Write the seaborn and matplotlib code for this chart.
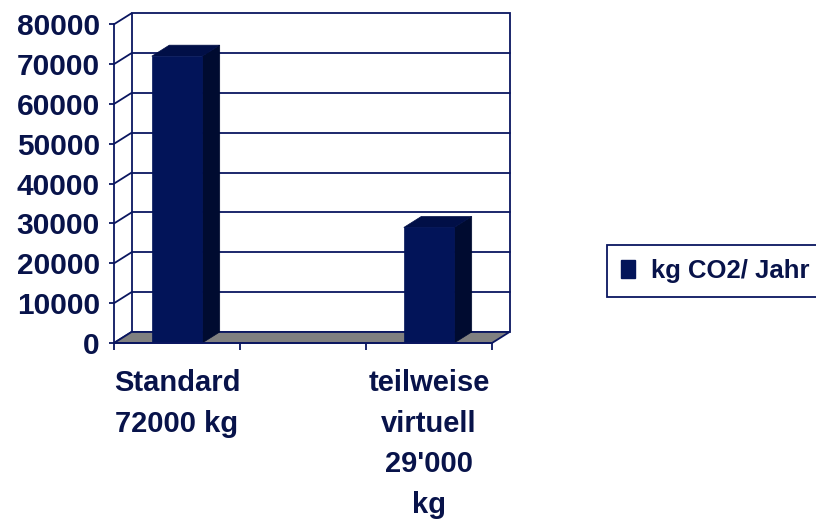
import numpy as np
import pandas as pd
import matplotlib
matplotlib.use("Agg")
import matplotlib.pyplot as plt
import seaborn as sns
from matplotlib.patches import Polygon, Patch
from matplotlib.lines import Line2D
from matplotlib.transforms import IdentityTransform

# ---- data ----
categories = ["Standard\n72000 kg", "", "teilweise\nvirtuell\n29'000\nkg"]
values = [72000, np.nan, 29000]
series_name = "kg CO2/ Jahr"
y_ticks = [0, 10000, 20000, 30000, 40000, 50000, 60000, 70000, 80000]
y_tick_labels = ["0", "10000", "20000", "30000", "40000", "50000", "60000", "70000", "80000"]

# ---- style ----
FRONT = "#021459"
SIDE = "#000b30"
TOP = "#010f47"
NAVY = "#0a1660"
TEXT = "#08134a"
FLOOR = "#808080"
DX, DY = 17.5, 11.0

sns.set_style("white")
plt.rcParams['font.family'] = ['Liberation Sans', 'DejaVu Sans']

W, H = 816, 528
fig = plt.figure(figsize=(W / 100, H / 100), dpi=100)
ax = fig.add_axes([114 / W, (H - 343) / H, 378 / W, (343 - 24.3) / H])

df = pd.DataFrame({"cat": categories, "val": values})
sns.barplot(data=df, x="cat", y="val", order=categories, width=0.4,
            color=FRONT, saturation=1, errorbar=None, ax=ax)
ax.set_xlim(-0.5, 2.5)
ax.set_ylim(0, 80000)
ax.set_xlabel("")
ax.set_ylabel("")
ax.patch.set_alpha(0)

bars = [p for p in ax.patches if np.isfinite(p.get_height()) and p.get_height() > 0]

def P(x, y, back=False):
    px, py = ax.transData.transform((x, y))
    if back:
        px += DX
        py += DY
    return (px, py)

LW = 1.3
idt = IdentityTransform()
x0, x1 = ax.get_xlim()
ytop = y_ticks[-1]

# back wall
ax.add_patch(Polygon([P(x0, 0, True), P(x1, 0, True), P(x1, ytop, True), P(x0, ytop, True)],
                     closed=True, facecolor="white", edgecolor=NAVY, lw=LW,
                     transform=idt, clip_on=False, zorder=0.5))
for v in y_ticks[1:-1]:
    a, b = P(x0, v, True), P(x1, v, True)
    ax.add_line(Line2D([a[0], b[0]], [a[1], b[1]], color=NAVY, lw=LW,
                       transform=idt, clip_on=False, zorder=0.6))
# left wall diagonals
for v in y_ticks:
    a, b = P(x0, v), P(x0, v, True)
    ax.add_line(Line2D([a[0], b[0]], [a[1], b[1]], color=NAVY, lw=LW,
                       transform=idt, clip_on=False, zorder=0.6))
# floor
ax.add_patch(Polygon([P(x0, 0), P(x1, 0), P(x1, 0, True), P(x0, 0, True)],
                     closed=True, facecolor=FLOOR, edgecolor=NAVY, lw=LW,
                     transform=idt, clip_on=False, zorder=1))

# 3D bars
for p in bars:
    bx, bw, bh = p.get_x(), p.get_width(), p.get_height()
    ax.add_patch(Polygon([P(bx + bw, 0), P(bx + bw, bh), P(bx + bw, bh, True), P(bx + bw, 0, True)],
                         closed=True, facecolor=SIDE, edgecolor=SIDE, lw=0.5,
                         transform=idt, clip_on=False, zorder=3))
    ax.add_patch(Polygon([P(bx, bh), P(bx + bw, bh), P(bx + bw, bh, True), P(bx, bh, True)],
                         closed=True, facecolor=TOP, edgecolor=TOP, lw=0.5,
                         transform=idt, clip_on=False, zorder=3))
    p.set_facecolor(FRONT)
    p.set_edgecolor(FRONT)
    p.set_linewidth(0.5)
    p.set_zorder(4)

# spines
for s in ["top", "right"]:
    ax.spines[s].set_visible(False)
for s in ["left", "bottom"]:
    ax.spines[s].set_visible(True)
    ax.spines[s].set_color(NAVY)
    ax.spines[s].set_linewidth(LW)
    ax.spines[s].set_zorder(5)

# ticks
ax.set_yticks(y_ticks)
ax.set_yticklabels(y_tick_labels)
ax.tick_params(axis="y", which="major", left=True, length=3.6, width=LW, color=NAVY,
               direction="out", pad=6.5, labelsize=21.5, labelcolor=TEXT)
for t in ax.get_yticklabels():
    t.set_fontweight("bold")

ax.set_xticks([0, 1, 2])
ax.set_xticklabels(categories)
ax.set_xticks([-0.5, 0.5, 1.5, 2.5], minor=True)
ax.tick_params(axis="x", which="major", length=0, pad=19, labelsize=21, labelcolor=TEXT)
ax.tick_params(axis="x", which="minor", bottom=True, length=5, width=LW, color=NAVY, direction="out")
for t in ax.get_xticklabels():
    t.set_fontweight("bold")
    t.set_linespacing(1.57)

# legend
leg = fig.legend([Patch(facecolor=FRONT, edgecolor=FRONT)], [series_name],
                 loc="upper left", bbox_to_anchor=(607 / W, 1 - 245 / H),
                 bbox_transform=fig.transFigure, frameon=True, fancybox=False,
                 edgecolor=NAVY, prop=dict(weight="bold", size=18.5),
                 handlelength=0.55, handleheight=0.7, handletextpad=0.6,
                 borderpad=0.55, borderaxespad=0, labelcolor=TEXT)
leg.get_frame().set_linewidth(LW)
leg.get_frame().set_alpha(1)

fig.savefig("out.png", dpi=100)
